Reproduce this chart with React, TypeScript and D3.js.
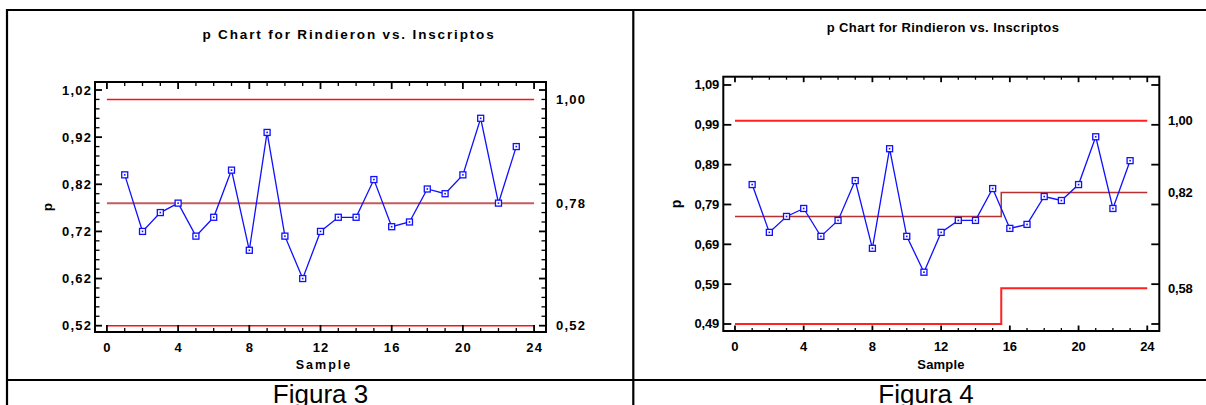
import React from "react";
import * as d3 from "d3";

// ---- data ----
const samples = [1, 2, 3, 4, 5, 6, 7, 8, 9, 10, 11, 12, 13, 14, 15, 16, 17, 18, 19, 20, 21, 22, 23];
const proportions = [0.84, 0.72, 0.76, 0.78, 0.71, 0.75, 0.85, 0.68, 0.93, 0.71, 0.62, 0.72, 0.75, 0.75, 0.83, 0.73, 0.74, 0.81, 0.80, 0.84, 0.96, 0.78, 0.90];

const sampleTicks = [0, 4, 8, 12, 16, 20, 24];
const sampleTickLabels = ["0", "4", "8", "12", "16", "20", "24"];

const fig3YTicks = [0.52, 0.62, 0.72, 0.82, 0.92, 1.02];
const fig3YTickLabels = ["0,52", "0,62", "0,72", "0,82", "0,92", "1,02"];
const fig4YTicks = [0.49, 0.59, 0.69, 0.79, 0.89, 0.99, 1.09];
const fig4YTickLabels = ["0,49", "0,59", "0,69", "0,79", "0,89", "0,99", "1,09"];

const fig3UCL: [number, number][] = [[0, 1.0], [24, 1.0]];
const fig3CL: [number, number][] = [[0, 0.78], [24, 0.78]];
const fig3LCL: [number, number][] = [[0, 0.52], [24, 0.52]];
const fig4UCL: [number, number][] = [[0, 1.0], [24, 1.0]];
const fig4CL: [number, number][] = [[0, 0.76], [15.5, 0.76], [15.5, 0.82], [24, 0.82]];
const fig4LCL: [number, number][] = [[0, 0.49], [15.5, 0.49], [15.5, 0.58], [24, 0.58]];

const fig3LimitValues = [1.0, 0.78, 0.52];
const fig3LimitLabels = ["1,00", "0,78", "0,52"];
const fig4LimitValues = [1.0, 0.82, 0.58];
const fig4LimitLabels = ["1,00", "0,82", "0,58"];

const titleText = "p Chart for Rindieron vs. Inscriptos";
const xLabelText = "Sample";
const yLabelText = "p";
const captions = ["Figura 3", "Figura 4"];

const FONT = "'Liberation Sans', Arial, Helvetica, sans-serif";
const BLUE = "#1010ff";

type Cfg = {
  xDomain: [number, number];
  xRange: [number, number];
  yDomain: [number, number];
  yRange: [number, number];
  yTicks: number[];
  yTickLabels: string[];
  yMinorStep: number | null;
  ucl: [number, number][];
  cl: [number, number][];
  lcl: [number, number][];
  limitValues: number[];
  limitLabels: string[];
  tickFont: number;
  tickLs: number;
  titleFont: number;
  titleLs: number;
  titleX: number;
  titleY: number;
  yLabelX: number;
  xLabelY: number;
  xLabelX: number;
  xLabelFont: number;
  xLabelLs: number;
  xTickY: number;
  yMajorLen: number;
  yMinorLen: number;
  xMajorLen: number;
  xMinorLen: number;
  clColor: string;
  clWidth: number;
  limitColor: string;
  limitWidth: number;
  rightLabelX: number;
};

function Chart({ c }: { c: Cfg }) {
  const x = d3.scaleLinear().domain(c.xDomain).range(c.xRange);
  const y = d3.scaleLinear().domain(c.yDomain).range(c.yRange);
  const [x0, x1] = c.xRange;
  const [yb, yt] = c.yRange;
  const line = d3
    .line<[number, number]>()
    .x((d) => x(d[0]))
    .y((d) => y(d[1]));
  const pts: [number, number][] = samples.map((s, i) => [s, proportions[i]]);
  const xMinor = d3.range(0, 25, 1);
  const yMinor =
    c.yMinorStep != null
      ? d3.range(c.yTicks[0], c.yDomain[1], c.yMinorStep).filter(
          (v) => !c.yTicks.some((t) => Math.abs(t - v) < 1e-6)
        )
      : [];
  return (
    <g fontFamily={FONT} fontWeight="bold" fill="#000">
      {/* title */}
      <text
        x={c.titleX}
        y={c.titleY}
        textAnchor="middle"
        dominantBaseline="central"
        fontSize={c.titleFont}
        letterSpacing={c.titleLs}
      >
        {titleText}
      </text>
      {/* control lines */}
      <path d={line(c.ucl) || ""} fill="none" stroke={c.limitColor} strokeWidth={c.limitWidth} />
      <path d={line(c.lcl) || ""} fill="none" stroke={c.limitColor} strokeWidth={c.limitWidth} />
      <path d={line(c.cl) || ""} fill="none" stroke={c.clColor} strokeWidth={c.clWidth} />
      {/* data */}
      <path d={line(pts) || ""} fill="none" stroke={BLUE} strokeWidth={1.3} />
      {pts.map((p, i) => (
        <g key={i}>
          <rect
            x={x(p[0]) - 3}
            y={y(p[1]) - 3}
            width={6}
            height={6}
            fill="#fff"
            stroke={BLUE}
            strokeWidth={1.3}
          />
          <rect x={x(p[0]) - 0.8} y={y(p[1]) - 0.8} width={1.6} height={1.6} fill={BLUE} />
        </g>
      ))}
      {/* frame */}
      <rect x={x0} y={yt} width={x1 - x0} height={yb - yt} fill="none" stroke="#000" strokeWidth={2} />
      {/* x ticks top and bottom */}
      {xMinor.map((v) => {
        const major = v % 4 === 0;
        const len = major ? c.xMajorLen : c.xMinorLen;
        return (
          <g key={"xt" + v} stroke="#000" strokeWidth={major ? 1.8 : 1.3}>
            <line x1={x(v)} x2={x(v)} y1={yt} y2={yt + len} />
            <line x1={x(v)} x2={x(v)} y1={yb} y2={yb - len} />
          </g>
        );
      })}
      {/* y ticks left and right */}
      {c.yTicks.map((v) => (
        <g key={"yt" + v} stroke="#000" strokeWidth={1.8}>
          <line x1={x0} x2={x0 + c.yMajorLen} y1={y(v)} y2={y(v)} />
          <line x1={x1} x2={x1 - c.yMajorLen} y1={y(v)} y2={y(v)} />
        </g>
      ))}
      {yMinor.map((v, i) => (
        <g key={"ym" + i} stroke="#000" strokeWidth={1.3}>
          <line x1={x0} x2={x0 + c.yMinorLen} y1={y(v)} y2={y(v)} />
          <line x1={x1} x2={x1 - c.yMinorLen} y1={y(v)} y2={y(v)} />
        </g>
      ))}
      {/* tick labels */}
      {sampleTicks.map((v, i) => (
        <text
          key={"xl" + v}
          x={x(v) + c.tickLs / 2}
          y={c.xTickY}
          textAnchor="middle"
          dominantBaseline="central"
          fontSize={c.tickFont}
          letterSpacing={c.tickLs}
        >
          {sampleTickLabels[i]}
        </text>
      ))}
      {c.yTicks.map((v, i) => (
        <text
          key={"yl" + v}
          x={x0 - 4 + c.tickLs}
          y={y(v)}
          textAnchor="end"
          dominantBaseline="central"
          fontSize={c.tickFont}
          letterSpacing={c.tickLs}
        >
          {c.yTickLabels[i]}
        </text>
      ))}
      {c.limitValues.map((v, i) => (
        <text
          key={"ll" + i}
          x={c.rightLabelX}
          y={y(v)}
          textAnchor="start"
          dominantBaseline="central"
          fontSize={c.tickFont}
          letterSpacing={c.tickLs}
        >
          {c.limitLabels[i]}
        </text>
      ))}
      {/* axis labels */}
      <text
        x={c.xLabelX}
        y={c.xLabelY}
        textAnchor="middle"
        dominantBaseline="central"
        fontSize={c.xLabelFont}
        letterSpacing={c.xLabelLs}
      >
        {xLabelText}
      </text>
      <text
        transform={`translate(${c.yLabelX},${(yb + yt) / 2}) rotate(-90)`}
        textAnchor="middle"
        dominantBaseline="central"
        fontSize={c.xLabelFont + 1}
      >
        {yLabelText}
      </text>
    </g>
  );
}

const fig3: Cfg = {
  xDomain: [-0.67, 24.67],
  xRange: [95, 546],
  yDomain: [0.5066, 1.037],
  yRange: [332, 82],
  yTicks: fig3YTicks,
  yTickLabels: fig3YTickLabels,
  yMinorStep: 0.02,
  ucl: fig3UCL,
  cl: fig3CL,
  lcl: fig3LCL,
  limitValues: fig3LimitValues,
  limitLabels: fig3LimitLabels,
  tickFont: 13,
  tickLs: 1.2,
  titleFont: 13.5,
  titleLs: 1.85,
  titleX: 349,
  titleY: 34,
  yLabelX: 47,
  xLabelY: 365,
  xLabelX: 324,
  xLabelFont: 12.5,
  xLabelLs: 2,
  xTickY: 347,
  yMajorLen: 7,
  yMinorLen: 4.5,
  xMajorLen: 7,
  xMinorLen: 4,
  clColor: "#c45c5c",
  clWidth: 2,
  limitColor: "#ff1010",
  limitWidth: 1.6,
  rightLabelX: 556,
};

const fig4: Cfg = {
  xDomain: [-0.68, 24.7],
  xRange: [723.3, 1159.3],
  yDomain: [0.4724, 1.1108],
  yRange: [331, 76.7],
  yTicks: fig4YTicks,
  yTickLabels: fig4YTickLabels,
  yMinorStep: null,
  ucl: fig4UCL,
  cl: fig4CL,
  lcl: fig4LCL,
  limitValues: fig4LimitValues,
  limitLabels: fig4LimitLabels,
  tickFont: 13,
  tickLs: -0.2,
  titleFont: 13,
  titleLs: 0.4,
  titleX: 943,
  titleY: 27.5,
  yLabelX: 676,
  xLabelY: 364,
  xLabelX: 941,
  xLabelFont: 13,
  xLabelLs: 0.2,
  xTickY: 346,
  yMajorLen: 8,
  yMinorLen: 0,
  xMajorLen: 5.5,
  xMinorLen: 3,
  clColor: "#b83030",
  clWidth: 1.5,
  limitColor: "#ff2020",
  limitWidth: 2,
  rightLabelX: 1168,
};

export default function App() {
  return (
    <svg
      width={1206}
      height={405}
      style={{ position: "absolute", left: 0, top: 0, background: "#fff" }}
    >
      <rect x={0} y={0} width={1206} height={405} fill="#fff" />
      {/* table lines */}
      <g stroke="#000" strokeWidth={2.2}>
        <line x1={6} x2={1206} y1={10} y2={10} />
        <line x1={6} x2={1206} y1={380} y2={380} />
        <line x1={7} x2={7} y1={9} y2={405} />
        <line x1={633.3} x2={633.3} y1={9} y2={405} />
      </g>
      <Chart c={fig3} />
      <Chart c={fig4} />
      <g fontFamily={FONT} fontSize={26} fill="#000">
        <text x={320.5} y={403} textAnchor="middle">
          {captions[0]}
        </text>
        <text x={926} y={403} textAnchor="middle">
          {captions[1]}
        </text>
      </g>
    </svg>
  );
}
